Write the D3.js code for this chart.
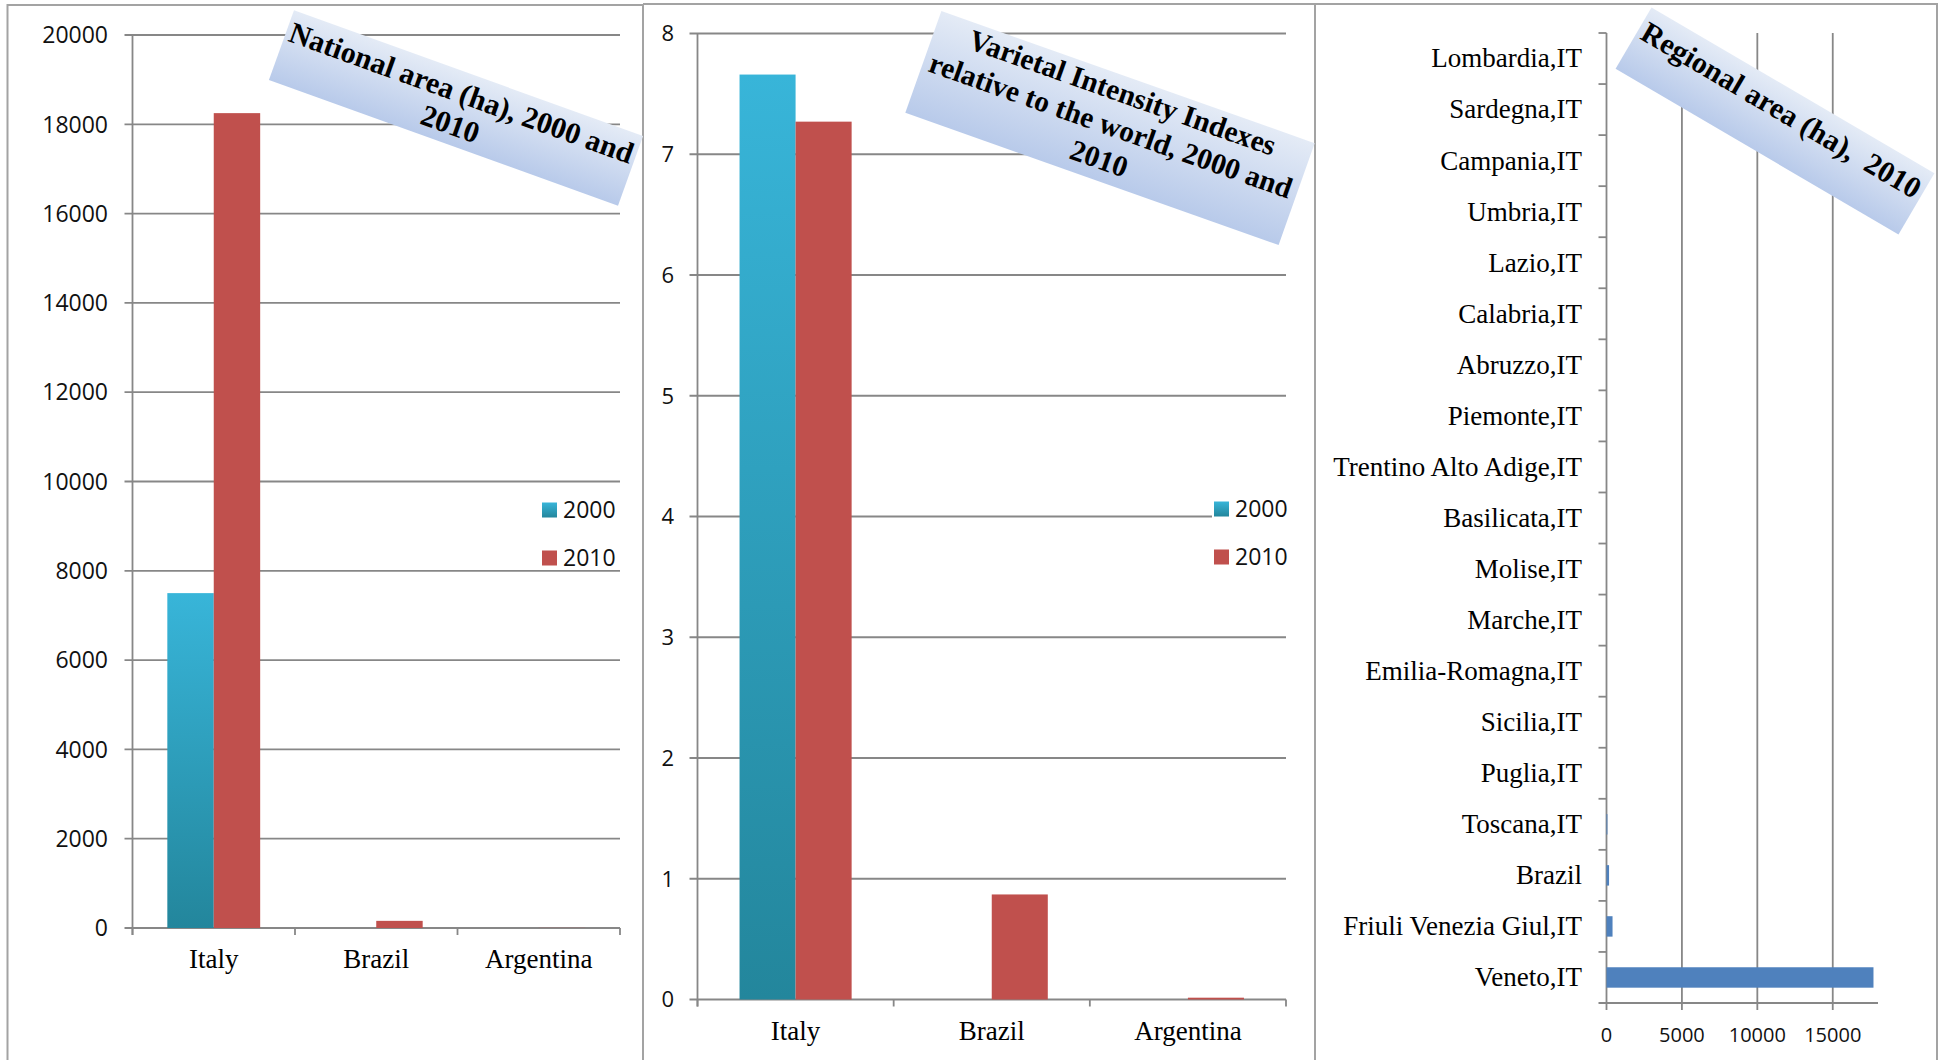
<!DOCTYPE html>
<html><head><meta charset="utf-8">
<script src="https://cdn.jsdelivr.net/npm/d3@7"></script>
<style>body{margin:0;background:#fff;} svg{display:block;}</style>
</head><body>
<svg id="c" width="1939" height="1060"></svg>
<script>
// ---------------- DATA ----------------
const categories = ["Italy", "Brazil", "Argentina"];
const seriesNames = ["2000", "2010"];
const nationalArea2000 = [7500, 0, 0];
const nationalArea2010 = [18250, 160, 3];
const nationalTicks = [0, 2000, 4000, 6000, 8000, 10000, 12000, 14000, 16000, 18000, 20000];
const intensity2000 = [7.66, 0, 0];
const intensity2010 = [7.27, 0.87, 0.015];
const intensityTicks = [0, 1, 2, 3, 4, 5, 6, 7, 8];
const regions = ["Lombardia,IT", "Sardegna,IT", "Campania,IT", "Umbria,IT", "Lazio,IT", "Calabria,IT",
  "Abruzzo,IT", "Piemonte,IT", "Trentino Alto Adige,IT", "Basilicata,IT", "Molise,IT", "Marche,IT",
  "Emilia-Romagna,IT", "Sicilia,IT", "Puglia,IT", "Toscana,IT", "Brazil", "Friuli Venezia Giul,IT", "Veneto,IT"];
const regionalArea2010 = [0, 0, 0, 0, 0, 0, 0, 0, 0, 0, 0, 0, 0, 0, 0, 60, 170, 400, 17700];
const regionalTicks = [0, 5000, 10000, 15000];
const title1 = ["National area (ha), 2000 and", "2010"];
const title2 = ["Varietal Intensity Indexes", "relative to the world, 2000 and", "2010"];
const title3 = ["Regional area (ha),\u00a0 2010"];

// ---------------- STYLE ----------------
const GRID = "#878787";
const SANS = "'Open Sans', sans-serif";
const SERIF = "'Liberation Serif', 'Times New Roman', serif";
const C2010 = "#c0504d";
const CREG = "#4f81bd";

const svg = d3.select("#c");
const defs = svg.append("defs");
const g2000 = defs.append("linearGradient").attr("id", "grad2000")
  .attr("x1", 0).attr("y1", 0).attr("x2", 0).attr("y2", 1);
g2000.append("stop").attr("offset", "0%").attr("stop-color", "#38b5d9");
g2000.append("stop").attr("offset", "100%").attr("stop-color", "#23869c");
const gT = defs.append("linearGradient").attr("id", "gradTitle")
  .attr("x1", 0).attr("y1", 0).attr("x2", 0).attr("y2", 1);
gT.append("stop").attr("offset", "0%").attr("stop-color", "#e4ebf6");
gT.append("stop").attr("offset", "100%").attr("stop-color", "#b8caea");

// panel borders
const border = svg.append("g").attr("stroke", "#a3a3a3").attr("stroke-width", 2).attr("fill", "none");
border.append("path").attr("d", "M7.5,1060 V5 H643 V1060");
border.append("path").attr("d", "M643,4 H1315 V1060");
border.append("path").attr("d", "M1315,4 H1937 V1060");

function columnPanel(o) {
  const g = svg.append("g");
  const y = d3.scaleLinear().domain([o.ticks[0], o.ticks[o.ticks.length - 1]]).range([o.bottom, o.top]);
  const x = d3.scaleBand().domain(categories).range([o.left, o.right]);
  const bw = x.bandwidth();
  const x1 = d3.scaleBand().domain(seriesNames).range([bw * 0.2143, bw * 0.7857]);
  // gridlines + ticks
  g.selectAll("line.grid").data(o.ticks).join("line")
    .attr("x1", o.left - 8).attr("x2", o.right)
    .attr("y1", d => y(d)).attr("y2", d => y(d))
    .attr("stroke", GRID).attr("stroke-width", 1.8);
  g.append("line").attr("x1", o.left).attr("x2", o.left).attr("y1", o.top).attr("y2", o.bottom + 7)
    .attr("stroke", GRID).attr("stroke-width", 1.8);
  const bounds = categories.map(c => x(c)).concat([o.right]);
  g.selectAll("line.bt").data(bounds).join("line")
    .attr("x1", d => d).attr("x2", d => d).attr("y1", o.bottom).attr("y2", o.bottom + 7)
    .attr("stroke", GRID).attr("stroke-width", 1.8);
  g.selectAll("text.yt").data(o.ticks).join("text")
    .attr("x", o.tickRight).attr("y", d => y(d)).attr("dy", "0.36em")
    .attr("text-anchor", "end").attr("font-family", SANS).attr("font-size", o.tickFont)
    .attr("fill", "#111").text(d => d);
  // bars
  const rows = categories.map((c, i) => ({ c, v: [o.v2000[i], o.v2010[i]] }));
  rows.forEach(r => {
    r.v.forEach((v, k) => {
      if (v <= 0) return;
      g.append("rect")
        .attr("x", x(r.c) + x1(seriesNames[k])).attr("width", x1.bandwidth())
        .attr("y", y(v)).attr("height", y(0) - y(v))
        .attr("fill", k === 0 ? "url(#grad2000)" : C2010);
    });
  });
  // category labels
  g.selectAll("text.xl").data(categories).join("text")
    .attr("x", d => x(d) + bw / 2).attr("y", o.labelBaseline)
    .attr("text-anchor", "middle").attr("font-family", SERIF).attr("font-size", o.labelFont)
    .attr("fill", "#000").text(d => d);
  // legend
  const lg = g.append("g");
  if (o.legendBg) {
    lg.append("rect").attr("x", o.legendX - 2).attr("y", o.legendY[0] - 10).attr("width", 76)
      .attr("height", o.legendY[1] - o.legendY[0] + 20).attr("fill", "#fff");
  }
  seriesNames.forEach((s, k) => {
    lg.append("rect").attr("x", o.legendX).attr("y", o.legendY[k] - 7.5).attr("width", 15).attr("height", 15)
      .attr("fill", k === 0 ? "url(#grad2000)" : C2010);
    lg.append("text").attr("x", o.legendX + 21).attr("y", o.legendY[k]).attr("dy", "0.36em")
      .attr("font-family", SANS).attr("font-size", 23).attr("fill", "#111").text(s);
  });
}

function titleBox(cx, cy, w, h, rot, lines, fs, lh, offY) {
  const g = svg.append("g").attr("transform", `translate(${cx},${cy}) rotate(${rot})`);
  g.append("rect").attr("x", -w / 2).attr("y", -h / 2).attr("width", w).attr("height", h)
    .attr("fill", "url(#gradTitle)");
  const n = lines.length;
  g.selectAll("text").data(lines).join("text")
    .attr("x", 0).attr("y", (d, i) => offY + (i - (n - 1) / 2) * lh).attr("dy", "0.35em")
    .attr("text-anchor", "middle").attr("font-family", SERIF).attr("font-weight", "bold")
    .attr("font-size", fs).attr("fill", "#000").text(d => d);
}

// Panel 1
columnPanel({ left: 132.5, right: 620, top: 35, bottom: 928, ticks: nationalTicks,
  v2000: nationalArea2000, v2010: nationalArea2010, tickFont: 23, tickRight: 108,
  labelBaseline: 968, labelFont: 27, legendX: 542, legendY: [510, 558], legendBg: false });
// Panel 2
columnPanel({ left: 697.5, right: 1286, top: 33.5, bottom: 999.5, ticks: intensityTicks,
  v2000: intensity2000, v2010: intensity2010, tickFont: 22, tickRight: 674,
  labelBaseline: 1040, labelFont: 27, legendX: 1214, legendY: [509, 557], legendBg: true });

// Panel 3
(function () {
  const g = svg.append("g");
  const left = 1606.5, right = 1878, top = 33, bottom = 1003;
  const x = d3.scaleLinear().domain([0, 18000]).range([left, right]);
  const y = d3.scaleBand().domain(regions).range([top, bottom]);
  g.selectAll("line.grid").data(regionalTicks.filter(t => t > 0)).join("line")
    .attr("x1", d => x(d)).attr("x2", d => x(d)).attr("y1", top).attr("y2", bottom + 7)
    .attr("stroke", GRID).attr("stroke-width", 1.8);
  g.append("line").attr("x1", left).attr("x2", left).attr("y1", top).attr("y2", bottom + 7)
    .attr("stroke", GRID).attr("stroke-width", 1.8);
  g.append("line").attr("x1", left - 8).attr("x2", right).attr("y1", bottom).attr("y2", bottom)
    .attr("stroke", GRID).attr("stroke-width", 1.8);
  g.selectAll("line.yt").data(regions).join("line")
    .attr("x1", left - 8).attr("x2", left).attr("y1", d => y(d)).attr("y2", d => y(d))
    .attr("stroke", GRID).attr("stroke-width", 1.8);
  const bh = y.bandwidth() * 0.4;
  g.selectAll("rect.bar").data(regions.map((r, i) => ({ r, v: regionalArea2010[i] })).filter(d => d.v > 0))
    .join("rect")
    .attr("x", x(0)).attr("width", d => x(d.v) - x(0))
    .attr("y", d => y(d.r) + (y.bandwidth() - bh) / 2).attr("height", bh)
    .attr("fill", CREG);
  g.selectAll("text.yl").data(regions).join("text")
    .attr("x", 1582).attr("y", d => y(d) + y.bandwidth() / 2).attr("dy", "0.33em")
    .attr("text-anchor", "end").attr("font-family", SERIF).attr("font-size", 27)
    .attr("fill", "#000").text(d => d);
  g.selectAll("text.xt").data(regionalTicks).join("text")
    .attr("x", d => x(d)).attr("y", 1042).attr("text-anchor", "middle")
    .attr("font-family", SANS).attr("font-size", 20).attr("fill", "#111").text(d => d);
})();

// Titles
titleBox(456, 108, 371, 74, 19.8, title1, 30, 33, 0);
titleBox(1110, 128, 396, 108, 19.5, title2, 29.5, 35, -3);
titleBox(1775, 121, 328, 71, 30.4, title3, 30, 32, -13);
</script>
</body></html>
